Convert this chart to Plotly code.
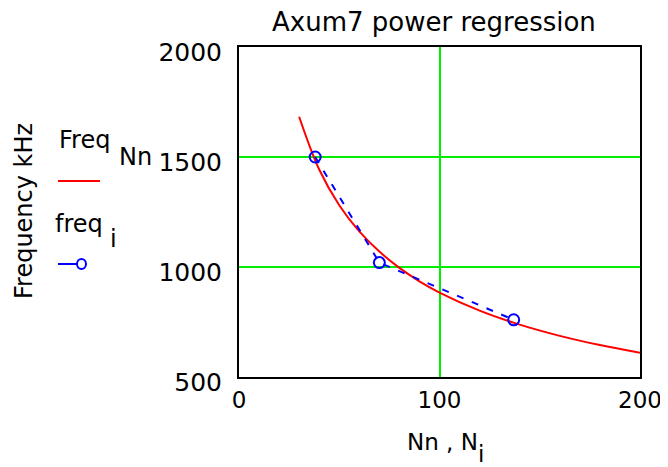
import plotly.graph_objects as go

# Power regression curve
curve_x = [30, 40, 50, 60, 70, 80, 90, 100, 120, 140, 160, 180, 200]
curve_y = [1683, 1443, 1281, 1162, 1070, 996, 935, 884, 802, 738, 687, 645, 610]

# Measured points
pts_x = [38, 70, 137]
pts_y = [1500, 1020, 760]

x_ticks = [0, 100, 200]
y_ticks = [500, 1000, 1500, 2000]

FONT = "DejaVu Sans"
BODY = 8  # default page margin of the html body

# plot area in screen pixels
pl, pr, pt, pb = 239, 640, 47, 377

fig = go.Figure()
fig.add_trace(go.Scatter(x=curve_x, y=curve_y, mode="lines",
                         line=dict(color="#ff0000", width=2, shape="spline"),
                         showlegend=False))
fig.add_trace(go.Scatter(x=pts_x, y=pts_y, mode="lines+markers",
                         line=dict(color="#0000ff", width=2, dash="7px,9px"),
                         marker=dict(symbol="circle-open", size=11, color="#0000ff",
                                     line=dict(width=2, color="#0000ff")),
                         showlegend=False))

axis_common = dict(showline=True, linecolor="black", linewidth=2, mirror=True,
                   showgrid=True, gridcolor="#00ee00", gridwidth=2,
                   zeroline=False, ticks="", automargin=False)

W, H = 668 - BODY, 467 - BODY
fig.update_layout(
    width=W, height=H,
    margin=dict(l=pl - BODY, r=668 - pr, t=pt - BODY, b=467 - pb),
    paper_bgcolor="white", plot_bgcolor="white",
    font=dict(family=FONT, color="black"),
    xaxis=dict(range=[0, 200], tickvals=x_ticks, ticklabelstandoff=1,
               ticklabelshift=0, tickfont=dict(family=FONT, size=23, color="black"),
               **axis_common),
    yaxis=dict(range=[500, 2000], tickvals=y_ticks, ticklabelstandoff=10,
               ticklabelshift=5, tickfont=dict(family=FONT, size=25, color="black"),
               **axis_common),
)


def fx(px):
    return (px - pl) / (pr - pl)


def fy(py):
    return (pb - py) / (pb - pt)


# (text, screen x, screen y, size, xanchor, angle)
texts = [
    ("Axum7 power regression", 434, 22, 26, "center", 0),
    ("Nn , N", 405, 442, 23, "left", 0),
    ("i", 476, 454, 23, "left", 0),
    ("Frequency kHz", 24, 211, 24, "center", -90),
    ("Freq", 57, 140, 24, "left", 0),
    ("Nn", 117, 157, 24, "left", 0),
    ("freq", 53, 224, 24, "left", 0),
    ("i", 108, 239, 24, "left", 0),
]
for t, x, y, s, xa, ang in texts:
    fig.add_annotation(text=t, x=fx(x), y=fy(y), xref="paper", yref="paper",
                       showarrow=False, xanchor=xa, yanchor="middle",
                       textangle=ang,
                       font=dict(family=FONT, size=s, color="black"))

# legend symbols
fig.add_shape(type="line", xref="paper", yref="paper",
              x0=fx(58), x1=fx(100), y0=fy(181), y1=fy(181),
              line=dict(color="#ff0000", width=2))
fig.add_shape(type="line", xref="paper", yref="paper",
              x0=fx(58), x1=fx(85), y0=fy(264), y1=fy(264),
              line=dict(color="#0000ff", width=2))
fig.add_shape(type="circle", xref="paper", yref="paper",
              x0=fx(77), x1=fx(86), y0=fy(259), y1=fy(269),
              line=dict(color="#0000ff", width=2), fillcolor="white")

fig.write_html("out.html")
